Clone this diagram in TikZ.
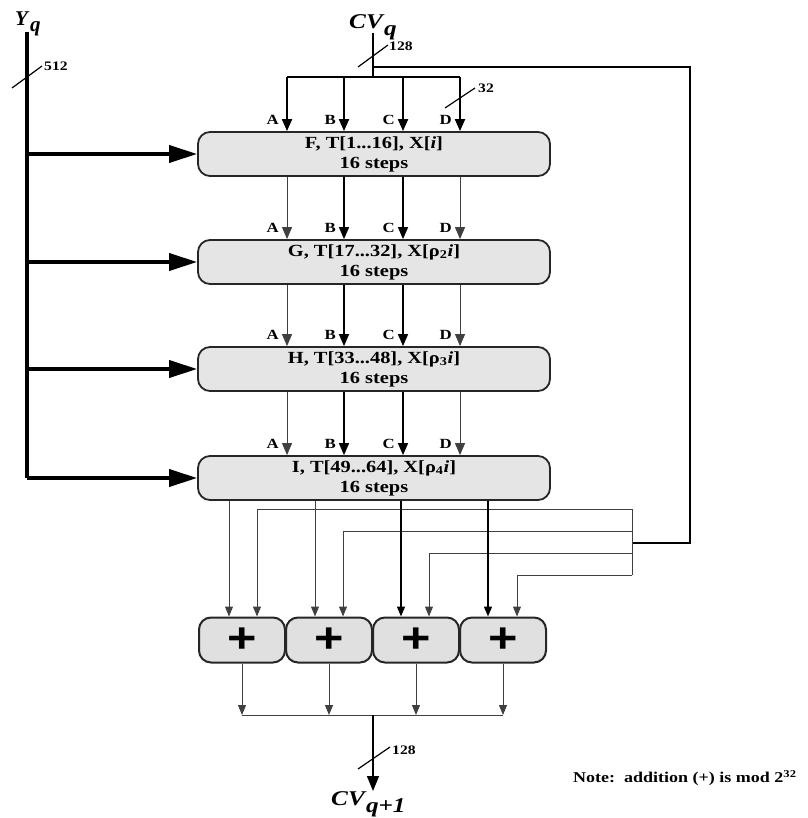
\documentclass[tikz,border=0pt]{standalone}
\usepackage{fontspec}
\setmainfont{Liberation Serif}
\newfontfamily\plusfont{Liberation Sans}
\usepackage{graphicx}
\usetikzlibrary{arrows.meta,calc}
\newcommand{\hs}[1]{\scalebox{1.2}[1]{#1}}
\begin{document}
\begin{tikzpicture}[x=1pt,y=-1pt,
  stage/.style={draw=black!85, line width=1.8pt, fill=black!10, rounded corners=12pt,
    minimum width=352pt, minimum height=44pt, inner sep=0pt, align=center,
    font=\bfseries\fontsize{17}{20}\selectfont},
  adder/.style={draw=black!85, line width=2pt, fill=black!12, rounded corners=12pt,
    minimum width=86pt, minimum height=45pt, inner sep=0pt,
    font=\plusfont\bfseries\fontsize{42}{42}\selectfont},
  bus/.style={line width=2pt},
  ybus/.style={line width=4.5pt},
  thinline/.style={line width=1pt, draw=black!75},
  midline/.style={line width=1.5pt},
  arr/.style={-{Triangle[length=12pt,width=10pt]}},
  smallarr/.style={-{Triangle[length=10pt,width=8pt]}},
  bigarr/.style={line width=4pt, -{Triangle[length=28pt,width=17pt]}},
  lbl/.style={font=\bfseries\fontsize{14}{14}\selectfont, inner sep=0pt},
  numlbl/.style={font=\bfseries\fontsize{13}{13}\selectfont, inner sep=0pt},
  slashline/.style={line width=1.2pt},
  biglbl/.style={font=\bfseries\itshape\fontsize{21}{21}\selectfont, inner sep=0pt}
]
\useasboundingbox (0,0) rectangle (807,818);

% ---------- stages ----------
\node[stage] (F) at (374,154) {\hs{F, T[1...16], X[\textit{i}]}\\\hs{16 steps}};
\node[stage] (G) at (374,262) {\hs{G, T[17...32], X[ρ\textsubscript{2}\textit{i}]}\\\hs{16 steps}};
\node[stage] (H) at (374,369) {\hs{H, T[33...48], X[ρ\textsubscript{3}\textit{i}]}\\\hs{16 steps}};
\node[stage] (I) at (374,478) {\hs{I, T[49...64], X[ρ\textsubscript{4}\textit{i}]}\\\hs{16 steps}};

% ---------- adders ----------
\node[adder] (add1) at (242,640) {\hs{+}};
\node[adder] (add2) at (329,640) {\hs{+}};
\node[adder] (add3) at (416,640) {\hs{+}};
\node[adder] (add4) at (503,640) {\hs{+}};

% ---------- Y_q bus ----------
\node[biglbl, anchor=base west] (Yq) at (15,26) {Y\hspace{2pt}\raisebox{-6pt}{q}};
\coordinate (Ytop) at (27,32);
\draw[ybus] (Ytop) -- (Ytop |- I.west);
\foreach \s in {F,G,H,I} \draw[bigarr] (Ytop |- \s.west) -- (\s.west);
\coordinate (s512a) at (12,88);
\coordinate (s512b) at (42,66);
\draw[slashline] (s512a) -- (s512b);
\node[numlbl, anchor=west] (n512) at (44,66) {\hs{512}};

% ---------- CV_q input ----------
\node[biglbl, anchor=base west] (CVq) at (349,29) {\hs{CV\hspace{1pt}\raisebox{-7pt}{q}}};
\coordinate (CVtop) at (373,33);
\coordinate (CVj) at (373,77);
\coordinate (FBj) at (373,67);
\coordinate (busA) at (287,77);
\coordinate (busB) at (344,77);
\coordinate (busC) at (403,77);
\coordinate (busD) at (460,77);
\draw[bus] (CVtop) -- (CVj);
\draw[bus] (busA) -- (busD);
\foreach \c in {busA,busB,busC,busD} \draw[bus,arr] (\c) -- (\c |- F.north);
\coordinate (s128a) at (358,67);
\coordinate (s128b) at (388,45);
\draw[slashline] (s128a) -- (s128b);
\node[numlbl, anchor=west] (n128) at (389,46) {\hs{128}};
\coordinate (s32a) at (445,108);
\coordinate (s32b) at (475,88);
\draw[slashline] (s32a) -- (s32b);
\node[numlbl, anchor=west] (n32) at (478,88) {\hs{32}};

% ---------- between stages ----------
\foreach \u/\d in {F/G,G/H,H/I} {
  \draw[thinline,arr] (busA |- \u.south) -- (busA |- \d.north);
  \draw[midline,arr] (busB |- \u.south) -- (busB |- \d.north);
  \draw[midline,arr] (busC |- \u.south) -- (busC |- \d.north);
  \draw[thinline,arr] (busD |- \u.south) -- (busD |- \d.north);
}
\foreach \s in {F,G,H,I} {
  \node[lbl, anchor=east] at ($(busA |- \s.north)+(-8,-11)$) {\hs{A}};
  \node[lbl, anchor=east] at ($(busB |- \s.north)+(-8,-11)$) {\hs{B}};
  \node[lbl, anchor=east] at ($(busC |- \s.north)+(-8,-11)$) {\hs{C}};
  \node[lbl, anchor=east] at ($(busD |- \s.north)+(-8,-11)$) {\hs{D}};
}

% ---------- feedback of CV_q ----------
\coordinate (FBr) at (690,67);
\coordinate (FBb) at (690,543);
\coordinate (FBd) at (632,543);
\draw[bus] (FBj) -- (FBr) -- (FBb) -- (FBd);
\coordinate (d1) at (632,509);
\coordinate (d2) at (632,531);
\coordinate (d3) at (632,553);
\coordinate (d4) at (632,575);
\draw[thinline] (d1) -- (d4);
\coordinate (f1) at (257,509);
\coordinate (f2) at (343,531);
\coordinate (f3) at (429,553);
\coordinate (f4) at (517,575);
\draw[thinline,smallarr] (d1) -- (f1) -- (f1 |- add1.north);
\draw[thinline,smallarr] (d2) -- (f2) -- (f2 |- add2.north);
\draw[thinline,smallarr] (d3) -- (f3) -- (f3 |- add3.north);
\draw[thinline,smallarr] (d4) -- (f4) -- (f4 |- add4.north);

% ---------- outputs of I to adders ----------
\coordinate (o1) at (229,600);
\coordinate (o2) at (315,600);
\coordinate (o3) at (401,600);
\coordinate (o4) at (488,600);
\draw[thinline,smallarr] (o1 |- I.south) -- (o1 |- add1.north);
\draw[thinline,smallarr] (o2 |- I.south) -- (o2 |- add2.north);
\draw[midline,smallarr] (o3 |- I.south) -- (o3 |- add3.north);
\draw[midline,smallarr] (o4 |- I.south) -- (o4 |- add4.north);

% ---------- adder outputs ----------
\coordinate (ob1) at (242,715);
\coordinate (ob4) at (503,715);
\coordinate (obm) at (373,715);
\foreach \a in {add1,add2,add3,add4} \draw[thinline,smallarr] (\a.south) -- (\a.south |- ob1);
\draw[thinline] (ob1) -- (ob4);
\node[biglbl, anchor=north west] (CVn) at (331,791) {\hs{CV\hspace{1pt}\raisebox{-7pt}{q+1}}};
\draw[midline,-{Triangle[length=15pt,width=12pt]}] (obm) -- (obm |- CVn.north);
\coordinate (s128c) at (358,769);
\coordinate (s128d) at (390,747);
\draw[slashline] (s128c) -- (s128d);
\node[numlbl, anchor=west] (n128b) at (392,750) {\hs{128}};

% ---------- note ----------
\node[anchor=west, inner sep=0pt, font=\bfseries\fontsize{15}{15}\selectfont] (note) at (573,778)
  {\hs{Note:\ \ addition (+) is mod 2\textsuperscript{32}}};
\end{tikzpicture}
\end{document}
